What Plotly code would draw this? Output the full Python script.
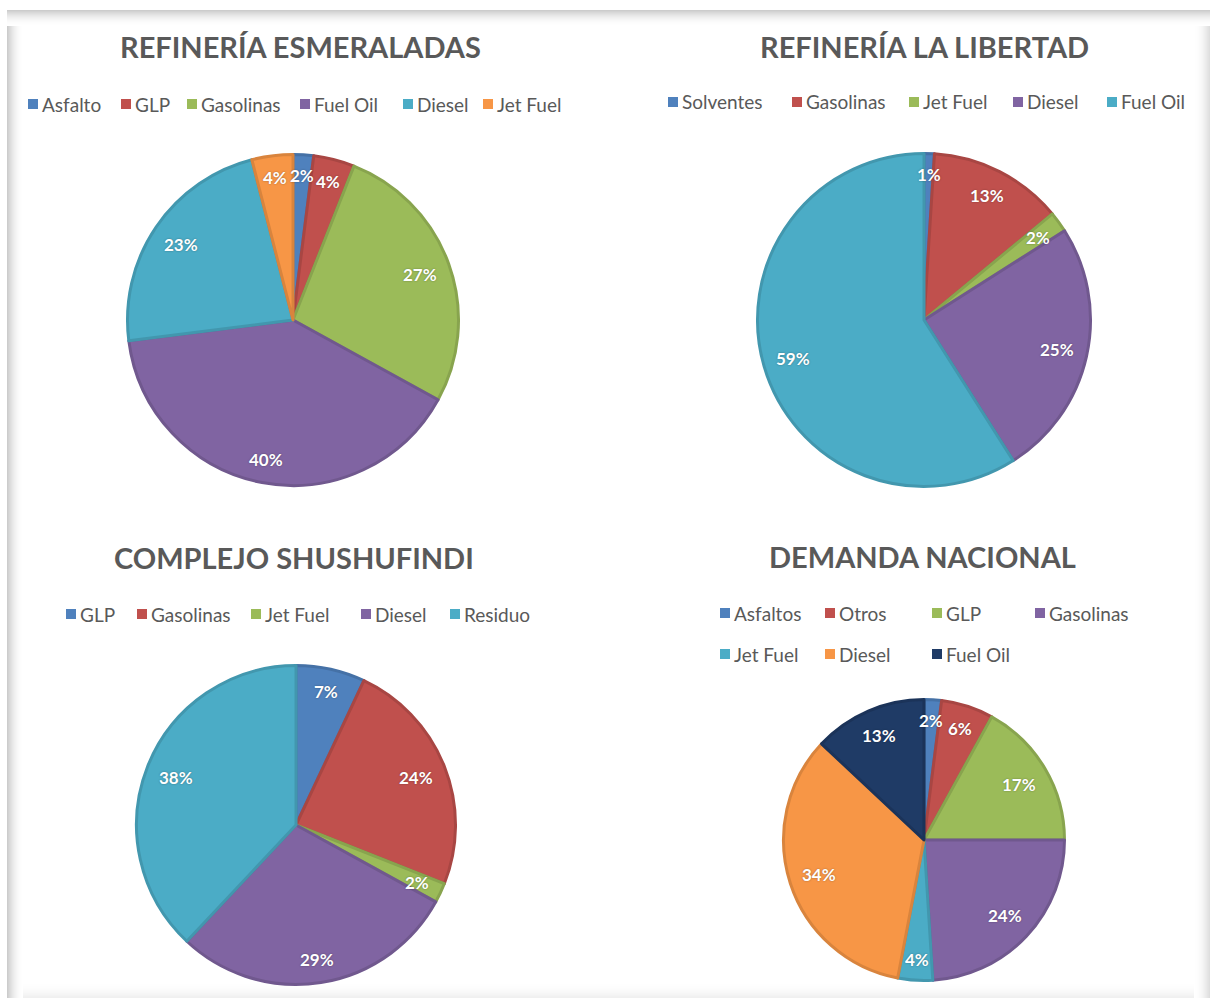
import math
import plotly.graph_objects as go

# ---------------- data ----------------
esm_title = "REFINERÍA ESMERALADAS"
esm_labels = ["Asfalto", "GLP", "Gasolinas", "Fuel Oil", "Diesel", "Jet Fuel"]
esm_values = [2, 4, 27, 40, 23, 4]

lib_title = "REFINERÍA LA LIBERTAD"
lib_labels = ["Solventes", "Gasolinas", "Jet Fuel", "Diesel", "Fuel Oil"]
lib_values = [1, 13, 2, 25, 59]

shu_title = "COMPLEJO SHUSHUFINDI"
shu_labels = ["GLP", "Gasolinas", "Jet Fuel", "Diesel", "Residuo"]
shu_values = [7, 24, 2, 29, 38]

dem_title = "DEMANDA NACIONAL"
dem_labels = ["Asfaltos", "Otros", "GLP", "Gasolinas", "Jet Fuel", "Diesel", "Fuel Oil"]
dem_values = [2, 6, 17, 24, 4, 34, 13]

# ---------------- styles ----------------
BLUE, RED, GREEN, PURPLE, TEAL, ORANGE, NAVY = (
    "#4F81BD", "#C0504D", "#9BBB59", "#8064A2", "#4BACC6", "#F79646", "#1F3B66")
esm_colors = [BLUE, RED, GREEN, PURPLE, TEAL, ORANGE]
lib_colors = [BLUE, RED, GREEN, PURPLE, TEAL]
shu_colors = [BLUE, RED, GREEN, PURPLE, TEAL]
dem_colors = [BLUE, RED, GREEN, PURPLE, TEAL, ORANGE, NAVY]

W, H = 1210, 998
TEXT_GREY = "#595959"
FONT = "Lato, 'Open Sans', sans-serif"


def fx(px):
    return px / W


def fy(py):
    return 1 - py / H


def darker(hex_color, f=0.88):
    h = hex_color.lstrip("#")
    r, g, b = (int(h[i:i + 2], 16) for i in (0, 2, 4))
    return "#%02x%02x%02x" % (int(r * f), int(g * f), int(b * f))


# layout of the four panels (pixel geometry)
panels = [
    dict(title=esm_title, labels=esm_labels, values=esm_values, colors=esm_colors,
         cx=293, cy=320, r=167, title_xy=(300, 47),
         legend_x=[28, 121, 187, 300, 403, 483], legend_y=[104] * 6),
    dict(title=lib_title, labels=lib_labels, values=lib_values, colors=lib_colors,
         cx=924, cy=320, r=168, title_xy=(924, 46),
         legend_x=[668, 792, 909, 1013, 1107], legend_y=[102] * 5),
    dict(title=shu_title, labels=shu_labels, values=shu_values, colors=shu_colors,
         cx=296, cy=825, r=161, title_xy=(294, 557),
         legend_x=[66, 137, 251, 361, 450], legend_y=[614] * 5),
    dict(title=dem_title, labels=dem_labels, values=dem_values, colors=dem_colors,
         cx=924, cy=840, r=142, title_xy=(923, 556),
         legend_x=[720, 825, 932, 1035, 720, 825, 932],
         legend_y=[613, 613, 613, 613, 654, 654, 654]),
]

LINE_W = 3
fig = go.Figure()
annotations = []
shapes = []

for p in panels:
    cx, cy, r = p["cx"], p["cy"], p["r"]
    rr = r - LINE_W / 2
    fig.add_trace(go.Pie(
        labels=p["labels"], values=p["values"], sort=False,
        direction="clockwise", rotation=0,
        marker=dict(colors=p["colors"],
                    line=dict(color=[darker(c) for c in p["colors"]], width=LINE_W)),
        textinfo="none", showlegend=False, hoverinfo="label+percent",
        domain=dict(x=[fx(cx - rr), fx(cx + rr)], y=[fy(cy + rr), fy(cy - rr)]),
    ))

    # percentage labels (inside end)
    total = sum(p["values"])
    cum = 0
    for v in p["values"]:
        mid = (cum + v / 2) / total * 2 * math.pi
        cum += v
        txt = f"{round(100 * v / total)}%"
        hw, hh = 5.6 * len(txt), 9
        ext = hw * abs(math.sin(mid)) + hh * abs(math.cos(mid))
        R = r - ext - 13
        annotations.append(dict(
            x=fx(cx + R * math.sin(mid)), y=fy(cy - R * math.cos(mid)),
            xref="paper", yref="paper", text=f"<b>{txt}</b>", showarrow=False,
            xanchor="center", yanchor="middle",
            font=dict(family=FONT, size=17, color="white",
                      shadow="0px 0px 2px rgba(0,0,0,0.35)"),
        ))

    # title
    tx, ty = p["title_xy"]
    annotations.append(dict(
        x=fx(tx), y=fy(ty), xref="paper", yref="paper", text=f"<b>{p['title']}</b>",
        showarrow=False, xanchor="center", yanchor="middle",
        font=dict(family=FONT, size=29, color=TEXT_GREY),
    ))

    # legend
    for lab, col, lx, ly in zip(p["labels"], p["colors"], p["legend_x"], p["legend_y"]):
        shapes.append(dict(type="rect", xref="paper", yref="paper",
                           x0=fx(lx), x1=fx(lx + 10), y0=fy(ly + 5), y1=fy(ly - 5),
                           fillcolor=col, line=dict(width=0), layer="above"))
        annotations.append(dict(
            x=fx(lx + 12), y=fy(ly), xref="paper", yref="paper", text=lab,
            showarrow=False, xanchor="left", yanchor="middle",
            font=dict(family=FONT, size=19, color=TEXT_GREY),
        ))

# frame with soft inner shadow
N = 16
for i in range(N):
    a = 0.20 * (1 - i / N) ** 2
    shapes.append(dict(type="rect", xref="paper", yref="paper",
                       x0=fx(7), x1=fx(W), y0=fy(11 + i), y1=fy(10 + i),
                       fillcolor=f"rgba(0,0,0,{a:.3f})", line=dict(width=0), layer="below"))
    shapes.append(dict(type="rect", xref="paper", yref="paper",
                       x0=fx(7 + i), x1=fx(8 + i), y0=fy(H), y1=fy(10 + N),
                       fillcolor=f"rgba(0,0,0,{a:.3f})", line=dict(width=0), layer="below"))
    b = 0.13 * (1 - i / N) ** 2
    shapes.append(dict(type="rect", xref="paper", yref="paper",
                       x0=fx(W - 1 - i), x1=fx(W - i), y0=fy(H), y1=fy(10 + N),
                       fillcolor=f"rgba(0,0,0,{b:.3f})", line=dict(width=0), layer="below"))
    c = 0.06 * (1 - i / N) ** 2
    shapes.append(dict(type="rect", xref="paper", yref="paper",
                       x0=fx(7 + N), x1=fx(W - N), y0=fy(H - i), y1=fy(H - 1 - i),
                       fillcolor=f"rgba(0,0,0,{c:.3f})", line=dict(width=0), layer="below"))

fig.update_layout(
    width=W, height=H, autosize=False,
    margin=dict(l=0, r=0, t=0, b=0),
    paper_bgcolor="white", plot_bgcolor="white",
    annotations=annotations, shapes=shapes,
    font=dict(family=FONT),
)

fig.write_html("out.html", config={"displayModeBar": False},
               post_script="document.body.style.margin='0';document.body.style.overflow='hidden';")
